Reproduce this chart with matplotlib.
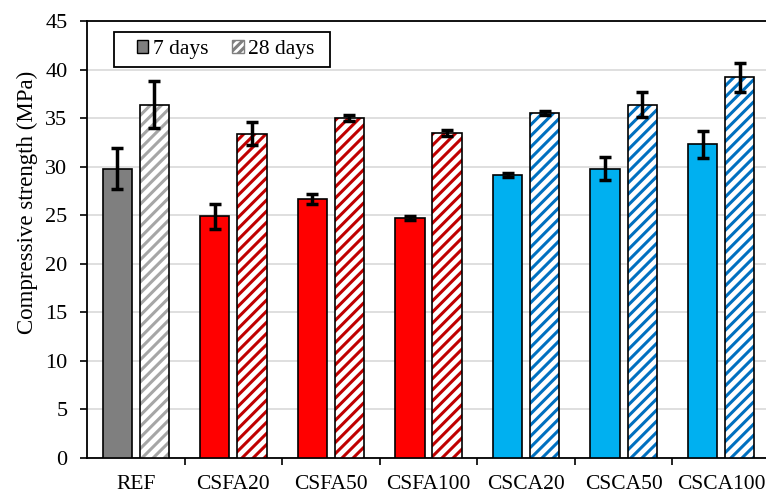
import matplotlib
matplotlib.use("Agg")
import matplotlib.pyplot as plt
import numpy as np
from matplotlib.patches import Patch, Rectangle

categories = ["REF", "CSFA20", "CSFA50", "CSFA100", "CSCA20", "CSCA50", "CSCA100"]
d7 = [29.8, 24.9, 26.7, 24.7, 29.1, 29.8, 32.3]
d7_err = [2.1, 1.3, 0.5, 0.2, 0.2, 1.2, 1.4]
d28 = [36.4, 33.4, 35.0, 33.5, 35.5, 36.4, 39.2]
d28_err = [2.4, 1.2, 0.3, 0.3, 0.2, 1.3, 1.5]
fill_colors = ["#7F7F7F", "#FF0000", "#FF0000", "#FF0000", "#00B0F0", "#00B0F0", "#00B0F0"]
hatch_colors = ["#A6A6A6", "#C00000", "#C00000", "#C00000", "#0070C0", "#0070C0", "#0070C0"]

plt.rcParams['font.family'] = ['Liberation Serif', 'DejaVu Serif']
plt.rcParams['hatch.linewidth'] = 2.2

W, H = 766, 493
fig = plt.figure(figsize=(W / 100, H / 100), dpi=100)
ax = fig.add_axes([87 / W, 35 / H, 683 / W, 437 / H])

x = np.arange(len(categories)) + 0.5
off = 0.19
w = 0.30

ax.bar(x - off, d7, w, color=fill_colors, edgecolor="black", linewidth=1.2, zorder=3)
for xi, v, hc in zip(x + off, d28, hatch_colors):
    ax.bar(xi, v, w, color="white", edgecolor=hc, hatch="///", linewidth=0, zorder=3)
ax.bar(x + off, d28, w, fill=False, edgecolor="black", linewidth=1.2, zorder=4)

ax.errorbar(x - off, d7, yerr=d7_err, fmt="none", ecolor="black", elinewidth=2.5,
            capsize=4, capthick=2.5, zorder=5)
ax.errorbar(x + off, d28, yerr=d28_err, fmt="none", ecolor="black", elinewidth=2.5,
            capsize=4, capthick=2.5, zorder=5)

ax.set_xlim(0, 7)
ax.set_ylim(0, 45)
ax.set_yticks(np.arange(0, 46, 5))
ax.yaxis.grid(True, color="#D9D9D9", linewidth=1.2, zorder=0)
ax.set_axisbelow(True)

ax.set_xticks(np.arange(1, 7))
ax.set_xticklabels([])
ax.set_xticks(x, minor=True)
ax.set_xticklabels(categories, minor=True)
ax.tick_params(axis="x", which="major", direction="out", length=5, width=1.2, color="black")
ax.tick_params(axis="x", which="minor", length=0, pad=12, labelsize=15.5)
ax.tick_params(axis="y", direction="out", length=5, width=1.2, labelsize=16, pad=9)

for s in ["left", "bottom", "top"]:
    ax.spines[s].set_color("black")
    ax.spines[s].set_linewidth(1.3)
ax.spines["right"].set_visible(False)

ax.set_ylabel("Compressive strength (MPa)", fontsize=16.5)
ax.yaxis.set_label_coords(-0.0717, 0.585)

# legend frame
fig.patches.append(Rectangle((114 / W, 1 - 67 / H), 216 / W, 35 / H, transform=fig.transFigure,
                             facecolor="white", edgecolor="black", linewidth=1.3, zorder=10))
handles = [Patch(facecolor="#7F7F7F", edgecolor="black", linewidth=1.0),
           Patch(facecolor="white", edgecolor="#7F7F7F", hatch="////", linewidth=1.0)]
leg = fig.legend(handles, ["7 days", "28 days"], loc="center",
                 bbox_to_anchor=(225.5 / W, 1 - 49.5 / H), ncol=2, fontsize=15.5, frameon=False,
                 handlelength=0.55, handleheight=0.55,
                 handletextpad=0.2, columnspacing=1.1, borderpad=0.0)
leg.set_zorder(11)

fig.savefig("out.png", dpi=100)
